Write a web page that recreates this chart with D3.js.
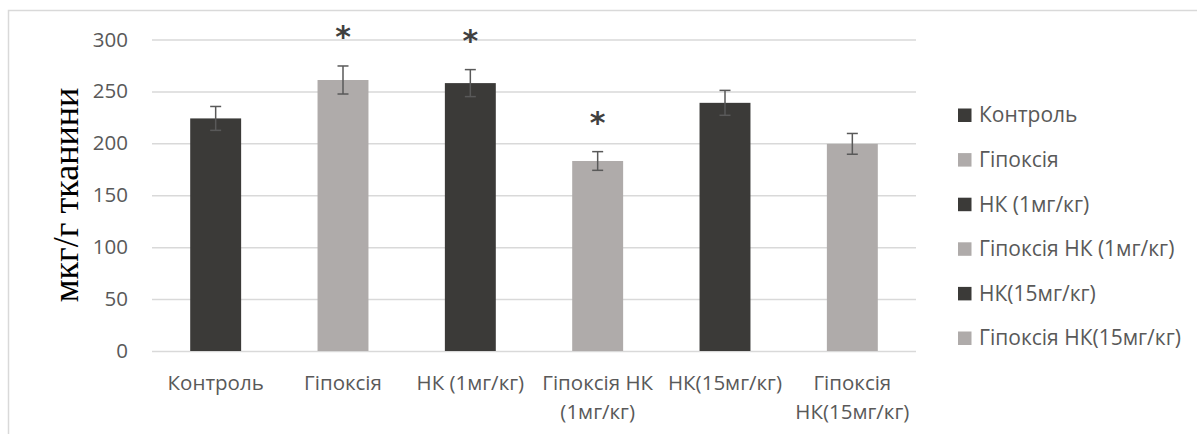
<!DOCTYPE html>
<html>
<head>
<meta charset="utf-8">
<script src="https://cdn.jsdelivr.net/npm/d3@7"></script>
<style>
  html, body { margin: 0; padding: 0; background: #fff; }
  svg { display: block; }
</style>
</head>
<body>
<svg id="chart" width="1197" height="434"></svg>
<script>
// Groups on the x axis (line breaks as shown under each bar)
const categories = ["Контроль", "Гіпоксія", "НК (1мг/кг)", "Гіпоксія НК (1мг/кг)", "НК(15мг/кг)", "Гіпоксія НК(15мг/кг)"];
const categoryLines = [["Контроль"], ["Гіпоксія"], ["НК (1мг/кг)"], ["Гіпоксія НК", "(1мг/кг)"], ["НК(15мг/кг)"], ["Гіпоксія", "НК(15мг/кг)"]];
// Mean values, мкг/г тканини
const values = [224, 261, 258, 183, 239, 199.5];
// Error bar half-widths
const errors = [11.5, 13.5, 13, 9, 12, 10];
// Significance marks
const significant = [false, true, true, true, false, false];
const yTicks = [0, 50, 100, 150, 200, 250, 300];
const yLabel = "мкг/г тканини";

const darkColor = "#3b3a38";
const lightColor = "#afabaa";
const barColors = [darkColor, lightColor, darkColor, lightColor, darkColor, lightColor];

const svg = d3.select("#chart");
const font = "'Open Sans', 'Noto Sans', sans-serif";
const axisFontSize = "20.5px";
const legendFontSize = "21px";

// Outer chart frame
svg.append("path")
  .attr("d", "M8.5,434 V10.5 H1197")
  .attr("fill", "none")
  .attr("stroke", "#d9d9d9")
  .attr("stroke-width", 1.5);

const plot = { left: 152, right: 916, top: 39.5, bottom: 351 };

const x = d3.scaleBand()
  .domain(categories)
  .range([plot.left, plot.right])
  .paddingInner(0.6)
  .paddingOuter(0.3);

const y = d3.scaleLinear()
  .domain([0, 300])
  .range([plot.bottom, plot.top]);

// Horizontal gridlines and value labels
const yAxis = d3.axisLeft(y).tickValues(yTicks).tickSize(-(plot.right - plot.left)).tickPadding(24);
const gy = svg.append("g").attr("transform", `translate(${plot.left},0)`).call(yAxis);
gy.select(".domain").remove();
gy.selectAll(".tick line").attr("stroke", "#d9d9d9").attr("stroke-width", 1.5);
gy.selectAll(".tick text")
  .attr("fill", "#595959")
  .style("font-family", font)
  .style("font-size", axisFontSize);

// Bars
svg.append("g").selectAll("rect")
  .data(categories)
  .join("rect")
  .attr("x", d => x(d))
  .attr("width", x.bandwidth())
  .attr("y", (d, i) => y(values[i]))
  .attr("height", (d, i) => y(0) - y(values[i]))
  .attr("fill", (d, i) => barColors[i]);

// Error bars
const eb = svg.append("g").attr("stroke", "#595959").attr("stroke-width", 1.5);
categories.forEach((c, i) => {
  const cx = x(c) + x.bandwidth() / 2;
  const hi = y(values[i] + errors[i]);
  const lo = y(values[i] - errors[i]);
  eb.append("line").attr("x1", cx).attr("x2", cx).attr("y1", hi).attr("y2", lo);
  eb.append("line").attr("x1", cx - 5.5).attr("x2", cx + 5.5).attr("y1", hi).attr("y2", hi);
  eb.append("line").attr("x1", cx - 5.5).attr("x2", cx + 5.5).attr("y1", lo).attr("y2", lo);
});

// Asterisks above significant groups
svg.append("g").selectAll("text")
  .data(categories.filter((c, i) => significant[i]))
  .join("text")
  .attr("x", d => x(d) + x.bandwidth() / 2)
  .attr("y", d => { const i = categories.indexOf(d); return y(values[i] + errors[i]) - 19; })
  .attr("text-anchor", "middle")
  .attr("fill", "#404040")
  .style("font-family", "'DejaVu Sans', sans-serif")
  .style("font-weight", "bold")
  .style("font-size", "30px")
  .text("*");

// Category labels
const xl = svg.append("g");
categories.forEach((c, i) => {
  const cx = x(c) + x.bandwidth() / 2;
  const t = xl.append("text")
    .attr("x", cx)
    .attr("y", 390)
    .attr("text-anchor", "middle")
    .attr("fill", "#595959")
    .style("font-family", font)
    .style("font-size", axisFontSize);
  categoryLines[i].forEach((line, k) => {
    t.append("tspan").attr("x", cx).attr("dy", k === 0 ? 0 : 29).text(line);
  });
});

// Y axis title
svg.append("text")
  .attr("transform", "translate(78,195) rotate(-90)")
  .attr("text-anchor", "middle")
  .attr("fill", "#000")
  .style("font-family", "'Liberation Serif', serif")
  .style("font-size", "36px")
  .text(yLabel);

// Legend
const legend = svg.append("g").attr("transform", "translate(958,115)");
categories.forEach((c, i) => {
  const g = legend.append("g").attr("transform", `translate(0,${i * 44.6})`);
  g.append("rect").attr("x", 0).attr("y", -6.5).attr("width", 13.5).attr("height", 13.5).attr("fill", barColors[i]);
  g.append("text")
    .attr("x", 21)
    .attr("y", 0)
    .attr("dy", "0.35em")
    .attr("fill", "#595959")
    .style("font-family", font)
    .style("font-size", legendFontSize)
    .text(c);
});
</script>
</body>
</html>
